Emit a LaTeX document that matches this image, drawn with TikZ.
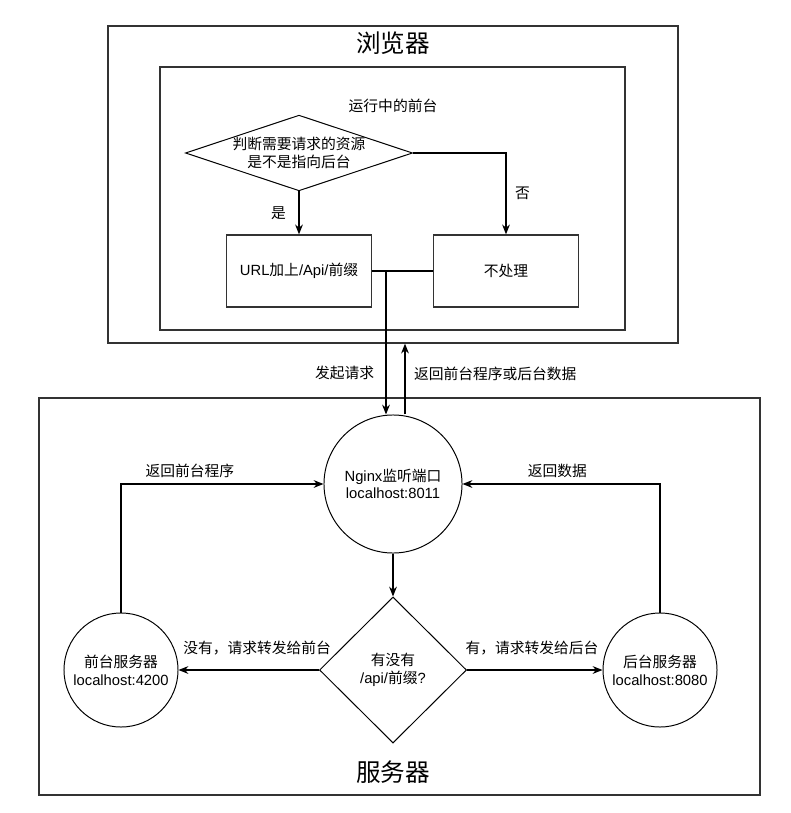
\documentclass[tikz,border=0pt]{standalone}
\usepackage{fontspec}
\setmainfont{Noto Sans CJK SC}
\newfontfamily\latin{Liberation Sans}
\usetikzlibrary{shapes.geometric, arrows.meta, fit, positioning}

\begin{document}
\begin{tikzpicture}[
    x=0.025cm, y=-0.025cm,
    every node/.style={font=\fontsize{10.5}{12.6}\selectfont},
    panel/.style={rectangle, draw=black!80, line width=0.9pt, inner sep=0pt},
    title/.style={font=\fontsize{17.5}{20}\selectfont},
    box/.style={rectangle, draw=black!80, line width=0.9pt, minimum width=3.625cm, minimum height=1.8cm, align=center},
    decide/.style={diamond, draw=black, line width=0.7pt, align=center, inner sep=0pt},
    server/.style={circle, draw=black, line width=0.7pt, align=center, inner sep=0pt},
    flow/.style={line width=0.8pt, -{Stealth[length=7pt, width=5.5pt]}},
    link/.style={line width=0.8pt},
    tag/.style={inner sep=1pt}
  ]
  \useasboundingbox (0,0) rectangle (790,813);

  % browser side
  \node[panel, fit={(108,26) (678,343)}] (browser) {};
  \node[title] (browsertitle) at (393,43) {浏览器};
  \node[panel, fit={(160,67) (625,330)}] (frontend) {};
  \node (running) at (393,106) {运行中的前台};
  \node[decide, aspect=3, minimum width=5.625cm, minimum height=1.875cm] (judge) at (299,153) {判断需要请求的资源\\是不是指向后台};
  \node[box] (prefix) at (299,271) {{\latin URL}加上{\latin /Api/}前缀};
  \node[box] (skip) at (506,271) {不处理};
  \coordinate (split) at (386,271);

  % server side
  \node[panel, fit={(39,398) (760,795)}] (server) {};
  \node[title] (servertitle) at (393,772) {服务器};
  \node[server, minimum size=3.45cm] (nginx) at (393,484) {{\latin Nginx}监听端口\\{\latin localhost:8011}};
  \node[decide, aspect=1, minimum width=3.675cm, minimum height=3.65cm] (check) at (393,670) {有没有\\{\latin /api/}前缀{\latin ?}};
  \node[server, minimum size=2.85cm] (fe) at (121,670) {前台服务器\\{\latin localhost:4200}};
  \node[server, minimum size=2.85cm] (be) at (660,670) {后台服务器\\{\latin localhost:8080}};

  \draw[flow] (judge.south) -- node[tag, left=8pt] {是} (prefix.north);
  \draw[flow] (judge.east) -| node[tag, pos=0.75, right=5pt] {否} (skip.north);
  \draw[link] (prefix.east) -- (skip.west);
  \draw[flow] (split) -- node[tag, pos=0.71, left=7pt] {发起请求} (split |- nginx.north);
  \draw[flow] ([shift={(12,0)}]nginx.north) -- node[tag, pos=0.58, right=5pt] {返回前台程序或后台数据} ([shift={(12,0)}]nginx.north |- browser.south);

  \draw[flow] (nginx.south) -- (check.north);
  \draw[flow] (check.west) -- node[tag, pos=0.44, above=9pt] {没有，请求转发给前台} (fe.east);
  \draw[flow] (check.east) -- node[tag, pos=0.48, above=9pt] {有，请求转发给后台} (be.west);
  \draw[flow] (fe.north) |- node[tag, pos=0.67, above=3pt] {返回前台程序} (nginx.west);
  \draw[flow] (be.north) |- node[tag, pos=0.76, above=3pt] {返回数据} (nginx.east);
\end{tikzpicture}
\end{document}
